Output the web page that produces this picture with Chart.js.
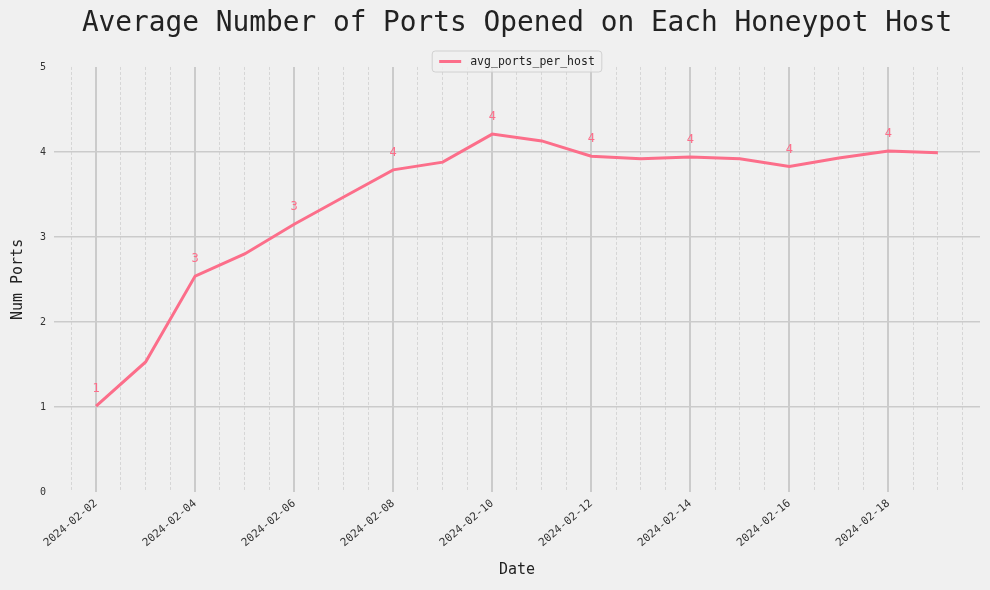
<!DOCTYPE html>
<html>
<head>
<meta charset="utf-8">
<script src="https://cdn.jsdelivr.net/npm/chart.js@4.4.1/dist/chart.umd.min.js"></script>
<style>
  html, body { margin: 0; padding: 0; background: #f0f0f0; }
  #wrap { width: 990px; height: 590px; }
</style>
</head>
<body>
<div id="wrap"><canvas id="chart" width="990" height="590"></canvas></div>
<script>
// data: day of month (Feb 2024) and average ports per host
const days = [2, 3, 4, 5, 6, 7, 8, 9, 10, 11, 12, 13, 14, 15, 16, 17, 18, 19];
const avgPorts = [1.01, 1.53, 2.54, 2.80, 3.15, 3.47, 3.79, 3.88, 4.21, 4.13, 3.95, 3.92, 3.94, 3.92, 3.83, 3.93, 4.01, 3.99];
const majorDays = [2, 4, 6, 8, 10, 12, 14, 16, 18];
const minorDays = [1.5, 2.5, 3, 3.5, 4.5, 5, 5.5, 6.5, 7, 7.5, 8.5, 9, 9.5, 10.5, 11, 11.5, 12.5, 13, 13.5, 14.5, 15, 15.5, 16.5, 17, 17.5, 18.5, 19, 19.5];
const yTicks = [0, 1, 2, 3, 4, 5];

const mono = "'DejaVu Sans Mono', monospace";
const lineColor = '#fc6e8a';
const gridColor = '#cbcbcb';

function dateLabel(d) {
    return '2024-02-' + String(d).padStart(2, '0');
}

// value labels over every second point + boxed legend
const extras = {
    id: 'extras',
    afterDatasetsDraw(chart) {
        const ctx = chart.ctx;
        const xs = chart.scales.x, ys = chart.scales.y;
        ctx.save();
        ctx.fillStyle = lineColor;
        ctx.font = '12px ' + mono;
        ctx.textAlign = 'center';
        ctx.textBaseline = 'middle';
        days.forEach((d, i) => {
            if (majorDays.includes(d)) {
                ctx.fillText(String(Math.round(avgPorts[i])), xs.getPixelForValue(d), ys.getPixelForValue(avgPorts[i]) - 17);
            }
        });

        // legend
        const label = chart.data.datasets[0].label;
        ctx.font = '11.5px ' + mono;
        const tw = ctx.measureText(label).width;
        const w = tw + 45, h = 21;
        const cx = (chart.chartArea.left + chart.chartArea.right) / 2;
        const x0 = cx - w / 2, y0 = 51;
        ctx.beginPath();
        ctx.roundRect(x0, y0, w, h, 3);
        ctx.fillStyle = 'rgba(240,240,240,0.8)';
        ctx.fill();
        ctx.strokeStyle = '#d0d0d0';
        ctx.lineWidth = 1;
        ctx.stroke();
        ctx.beginPath();
        ctx.moveTo(x0 + 7, y0 + h / 2);
        ctx.lineTo(x0 + 29, y0 + h / 2);
        ctx.strokeStyle = lineColor;
        ctx.lineWidth = 3;
        ctx.stroke();
        ctx.fillStyle = '#222';
        ctx.textAlign = 'left';
        ctx.fillText(label, x0 + 38, y0 + h / 2 + 1);
        ctx.restore();
    }
};

new Chart(document.getElementById('chart'), {
    type: 'line',
    data: {
        datasets: [{
            label: 'avg_ports_per_host',
            data: days.map((d, i) => ({ x: d, y: avgPorts[i] })),
            borderColor: lineColor,
            backgroundColor: lineColor,
            borderWidth: 3,
            pointRadius: 0,
            tension: 0,
            xAxisID: 'x'
        }]
    },
    options: {
        responsive: false,
        animation: false,
        layout: { padding: { right: 10 } },
        plugins: {
            legend: { display: false },
            tooltip: { enabled: false },
            title: {
                display: true,
                text: 'Average Number of Ports Opened on Each Honeypot Host',
                fullSize: false,
                color: '#222',
                font: { family: mono, size: 27.8, weight: 'normal' },
                padding: { top: 7, bottom: 26.6 }
            }
        },
        scales: {
            x: {
                type: 'linear',
                min: 1.15,
                max: 19.85,
                afterBuildTicks: s => { s.ticks = majorDays.map(v => ({ value: v })); },
                afterFit: s => { s.height = 98; },
                afterCalculateLabelRotation: s => { s.labelRotation = 40; },
                ticks: {
                    autoSkip: false,
                    maxRotation: 40,
                    minRotation: 40,
                    color: '#333',
                    font: { family: mono, size: 11 },
                    padding: 5,
                    callback: v => dateLabel(v)
                },
                grid: { color: gridColor, lineWidth: 2, drawTicks: false },
                border: { display: false },
                title: {
                    display: true,
                    text: 'Date',
                    color: '#222',
                    font: { family: mono, size: 15 },
                    padding: { top: 0, bottom: 11 }
                }
            },
            x2: {
                type: 'linear',
                position: 'bottom',
                min: 1.15,
                max: 19.85,
                afterBuildTicks: s => { s.ticks = minorDays.map(v => ({ value: v })); },
                afterFit: s => { s.height = 0; },
                ticks: { display: false },
                grid: { color: '#d6d6d6', lineWidth: 1, drawTicks: false },
                border: { display: false, dash: [3, 2] }
            },
            y: {
                min: 0,
                max: 5,
                afterBuildTicks: s => { s.ticks = yTicks.map(v => ({ value: v })); },
                afterFit: s => { s.width = 54; },
                ticks: {
                    color: '#333',
                    font: { family: mono, size: 10 },
                    padding: 8
                },
                grid: {
                    color: c => (c.tick && (c.tick.value === 0 || c.tick.value === 5)) ? 'rgba(0,0,0,0)' : gridColor,
                    lineWidth: 1.5,
                    drawTicks: false
                },
                border: { display: false },
                title: {
                    display: true,
                    text: 'Num Ports',
                    color: '#222',
                    font: { family: mono, size: 15 },
                    padding: { top: 9, bottom: 8 }
                }
            }
        }
    },
    plugins: [extras]
});
</script>
</body>
</html>
